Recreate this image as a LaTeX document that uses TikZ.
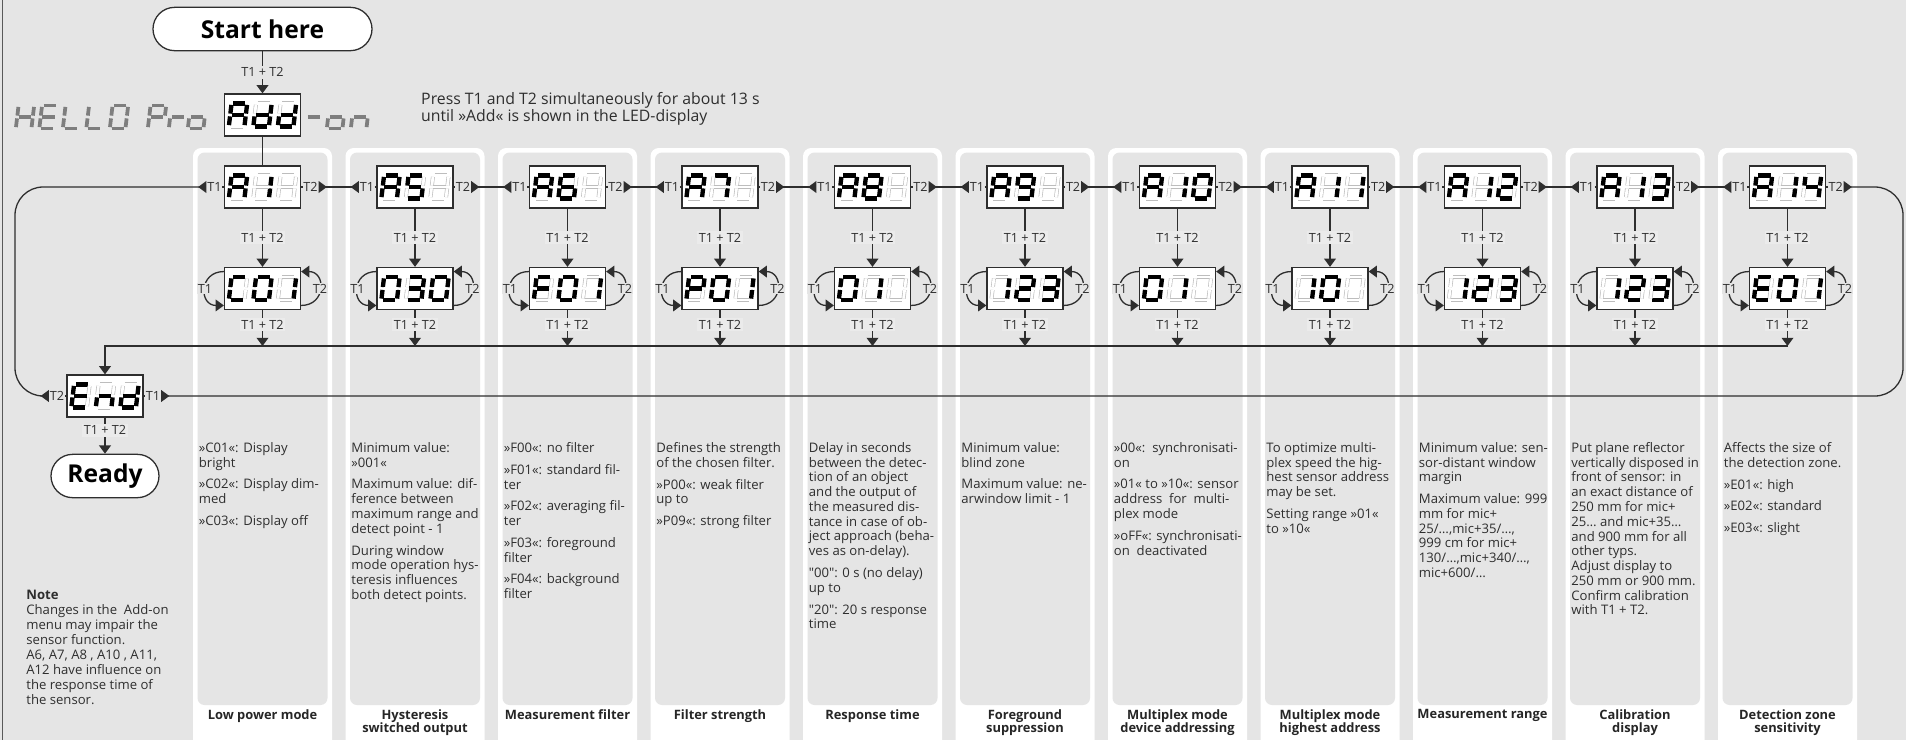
\documentclass[tikz,border=0pt]{standalone}
\usepackage{fontspec}
\setmainfont{Open Sans}
\usetikzlibrary{arrows.meta,positioning}
\definecolor{panelgray}{HTML}{E5E5E5}
\definecolor{tagbg}{HTML}{EBEBEB}
\definecolor{ink}{HTML}{2E2E2E}
\definecolor{segdim}{HTML}{BDBDBD}
\definecolor{hellogray}{HTML}{7E7E7E}
% one segment: lit if its letter is in the list
\makeatletter
\newcommand{\segpart}[3]{\edef\segtest{\noexpand\in@{#1}{#2}}\segtest
  \ifin@\draw[segon] #3;\else\draw[segoff] #3;\fi}
\makeatother
\newcommand{\segchar}[2]{%
  \begin{scope}[shift={#1},xslant=0.12]
    \segpart{a}{#2}{(-6.1,-11.6) -- (6.1,-11.6)}
    \segpart{b}{#2}{(7.8,-10.1) -- (7.8,-1.4)}
    \segpart{c}{#2}{(7.8,1.4) -- (7.8,10.1)}
    \segpart{d}{#2}{(-6.1,11.6) -- (6.1,11.6)}
    \segpart{e}{#2}{(-7.8,1.4) -- (-7.8,10.1)}
    \segpart{f}{#2}{(-7.8,-10.1) -- (-7.8,-1.4)}
    \segpart{g}{#2}{(-6.1,0) -- (6.1,0)}
  \end{scope}}
\newcommand{\segtriple}[4]{%
  \begin{scope}[shift={(#1)}]
    \segchar{(-24.5,0)}{#2}\segchar{(0,0)}{#3}\segchar{(24.5,0)}{#4}
  \end{scope}}
\tikzset{
  wire/.style={draw=ink,line width=1.1pt},
  flow/.style={wire,-{Triangle[length=7pt,width=10pt]}},
  keylink/.style={wire,{Triangle[reversed,length=7pt,width=10pt]}-{Triangle[reversed,length=7pt,width=10pt]}},
  dispbox/.style={draw=ink,fill=white,line width=1.1pt,minimum width=22.8mm,minimum height=12.6mm,inner sep=0pt},
  pill/.style={draw=ink,fill=white,line width=1.1pt,rounded corners=6.5mm,minimum height=13mm,font=\fontsize{21}{24}\selectfont\bfseries},
  keytag/.style={inner sep=0.6pt,text=ink,font=\fontsize{10.8}{12}\selectfont},
  pushtag/.style={keytag,fill=tagbg,inner sep=1.5pt},
  looptag/.style={keytag,fill=panelgray},
  segon/.style={draw=black,line width=3.7pt},
  segoff/.style={draw=segdim,line width=0.55pt,double=white,double distance=2.3pt},
  body/.style={anchor=north west,align=left,inner sep=1pt,text=ink,font=\fontsize{11.2}{12.6}\selectfont},
  coltitle/.style={anchor=north,align=center,inner sep=0pt,text=black!85,font=\fontsize{11}{11.8}\selectfont\bfseries}
}

\begin{document}
\begin{tikzpicture}[x=0.3mm,y=-0.3mm]
\useasboundingbox (0,0) rectangle (1906,740);
\fill[panelgray] (0,0) rectangle (1906,740);
\draw[gray!70!black,line width=0.6pt] (2.5,0) -- (2.5,740);

% HELLO Pro Add-on
\begin{scope}[segon/.style={draw=hellogray,line width=3.2pt},segoff/.style={draw=none}]
  \segchar{(25,117)}{bcefg}
  \segchar{(48.5,117)}{adefg}
  \segchar{(72,117)}{def}
  \segchar{(95.5,117)}{def}
  \segchar{(119,117)}{abcdef}
  \segchar{(157,117)}{abefg}
  \segchar{(178,117)}{eg}
  \segchar{(197,117)}{cdeg}
  \segchar{(314,117)}{g}
  \segchar{(336,117)}{cdeg}
  \segchar{(360,117)}{ceg}
\end{scope}

\node[pill,minimum width=65.7mm] (start) at (262.5,29) {Start here};
\node[dispbox] (add) at (262.5,115) {};
\segtriple{add}{abcefg}{bcdeg}{bcdeg}
\draw[flow] (start) -- node[keytag,fill=panelgray,inner sep=1.5pt]{T1 + T2} (add);
\node[anchor=north west,align=left,inner sep=0pt,text=ink,font=\fontsize{13.5}{12.2}\selectfont] (press) at (421,92)
  {Press T1 and T2 simultaneously for about 13 s\\until »Add« is shown in the LED-display};

\coordinate (mrg) at (105,346);

% menu columns
\foreach \i/\cx/\ab/\ac/\ca/\cb/\cc/\ti in {
  1/262.5/bc/x/adef/abcdef/bc/{Low power mode},
  2/415/acdfg/x/abcdef/abcdg/abcdef/{Hysteresis\\switched output},
  3/567.5/acdefg/x/aefg/abcdef/bc/{Measurement filter},
  4/720/abc/x/abefg/abcdef/bc/{Filter strength},
  5/872.5/abcdefg/x/abcdef/bc/x/{Response time},
  6/1025/abcdfg/x/bc/abdeg/abcdg/{Foreground\\suppression},
  7/1177.5/bc/abcdef/abcdef/bc/x/{Multiplex mode\\device addressing},
  8/1330/bc/bc/bc/abcdef/x/{Multiplex mode\\highest address},
  9/1482.5/bc/abdeg/bc/abdeg/abcdg/{Measurement range},
  10/1635/bc/abcdg/bc/abdeg/abcdg/{Calibration\\display},
  11/1787.5/bc/bcfg/adefg/abcdef/bc/{Detection zone\\sensitivity}}{
  \fill[white,rounded corners=7pt] (\cx-69.5,148) rectangle (\cx+69.5,748);
  \fill[panelgray,rounded corners=6pt] (\cx-65,152.5) rectangle (\cx+65,705);
  \node[coltitle] (t\i) at (\cx,709) {\ti};
  \node[dispbox] (a\i) at (\cx,187) {};
  \segtriple{a\i}{abcefg}{\ab}{\ac}
  \node[dispbox] (c\i) at (\cx,288.5) {};
  \segtriple{c\i}{\ca}{\cb}{\cc}
  \node[keytag,left=1.2pt of a\i] (al\i) {T1};
  \node[keytag,right=1.2pt of a\i] (ar\i) {T2};
  \draw[wire] (al\i) -- (a\i);
  \draw[wire] (a\i) -- (ar\i);
  \draw[flow] (a\i) -- node[pushtag]{T1 + T2} (c\i);
  \draw[flow] (c\i) -- node[pushtag,pos=0.4]{T1 + T2} (c\i |- mrg);
  \draw[flow] ([yshift=-4pt]c\i.north west) to[out=180,in=180,looseness=1.9] node[looptag]{T1} ([yshift=4pt]c\i.south west);
  \draw[flow] ([yshift=4pt]c\i.south east) to[out=0,in=0,looseness=1.9] node[looptag]{T2} ([yshift=-4pt]c\i.north east);
}
\foreach \i/\j in {1/2,2/3,3/4,4/5,5/6,6/7,7/8,8/9,9/10,10/11}
  \draw[keylink] (ar\i) -- (al\j);
\draw[wire] (add) -- (a1);

% texts of the columns
\node[body] (txt1) at (197.5,441) {»C01«: Display\\bright\\[6pt]»C02«: Display dim-\\med\\[6pt]»C03«: Display off};
\node[body] (txt2) at (350,441) {Minimum value:\\»001«\\[6pt]Maximum value: dif-\\ference between\\maximum range and\\detect point - 1\\[6pt]During window\\mode operation hys-\\teresis influences\\both detect points.};
\node[body] (txt3) at (502.5,441) {»F00«: no filter\\[6pt]»F01«: standard fil-\\ter\\[6pt]»F02«: averaging fil-\\ter\\[6pt]»F03«: foreground\\filter\\[6pt]»F04«: background\\filter};
\node[body] (txt4) at (655,441) {Defines the strength\\of the chosen filter.\\[6pt]»P00«: weak filter\\up to\\[6pt]»P09«: strong filter};
\node[body] (txt5) at (807.5,441) {Delay in seconds\\between the detec-\\tion of an object\\and the output of\\the measured dis-\\tance in case of ob-\\ject approach (beha-\\ves as on-delay).\\[6pt]\textquotedbl00\textquotedbl: 0 s (no delay)\\up to\\[6pt]\textquotedbl20\textquotedbl: 20 s response\\time};
\node[body] (txt6) at (960,441) {Minimum value:\\blind zone\\[6pt]Maximum value: ne-\\arwindow limit - 1};
\node[body] (txt7) at (1112.5,441) {»00«:\ \ synchronisati-\\on\\[6pt]»01« to »10«: sensor\\address\ \ for\ \ multi-\\plex mode\\[6pt]»oFF«: synchronisati-\\on\ \ deactivated};
\node[body] (txt8) at (1265,441) {To optimize multi-\\plex speed the hig-\\hest sensor address\\may be set.\\[6pt]Setting range »01«\\to »10«};
\node[body] (txt9) at (1417.5,441) {Minimum value: sen-\\sor-distant window\\margin\\[6pt]Maximum value: 999\\mm for mic+\\25/…,mic+35/…,\\999 cm for mic+\\130/…,mic+340/…,\\mic+600/…};
\node[body] (txt10) at (1570,441) {Put plane reflector\\vertically disposed in\\front of sensor: in\\an exact distance of\\250 mm for mic+\\25… and mic+35…\\and 900 mm for all\\other typs.\\Adjust display to\\250 mm or 900 mm.\\Confirm calibration\\with T1 + T2.};
\node[body] (txt11) at (1722.5,441) {Affects the size of\\the detection zone.\\[6pt]»E01«: high\\[6pt]»E02«: standard\\[6pt]»E03«: slight};

% end of the menu
\node[dispbox] (endd) at (105,396) {};
\segtriple{endd}{adefg}{ceg}{bcdeg}
\node[keytag,left=1.2pt of endd] (endl) {T2};
\node[keytag,right=1.2pt of endd] (endr) {T1};
\draw[wire] (endl) -- (endd);
\draw[wire] (endd) -- (endr);
\draw[flow] (c11 |- mrg) -- (mrg) -- (endd);
\draw[keylink,rounded corners=24pt] (al1) -- (15,187) -- (15,396) -- (endl);
\draw[keylink,rounded corners=24pt] (ar11) -- (1903,187) -- (1903,396) -- (endr);
\node[pill,minimum width=32.4mm] (ready) at (105,476) {Ready};
\draw[flow] (endd) -- node[pushtag,pos=0.35]{T1 + T2} (ready);

\node[body,font=\fontsize{11.2}{12.8}\selectfont] (note) at (25,589) {\textbf{Note}\\Changes in the\ \ Add-on\\menu may impair the\\sensor function.\\A6, A7, A8 , A10 , A11,\\A12 have influence on\\the response time of\\the sensor.};
\end{tikzpicture}
\end{document}
